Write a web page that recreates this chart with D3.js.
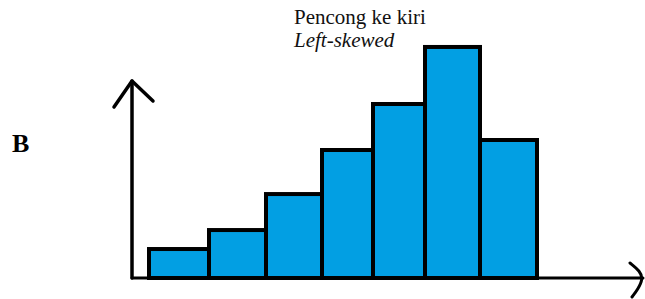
<!DOCTYPE html>
<html>
<head>
<meta charset="utf-8">
<script src="https://cdn.jsdelivr.net/npm/d3@7"></script>
<style>
html,body{margin:0;padding:0;background:#fff;}
svg{display:block;}
.serif{font-family:'Liberation Serif','Times New Roman',Times,serif;}
</style>
</head>
<body>
<svg id="chart" width="645" height="299"></svg>
<script>
const binEdges = [0, 6.0, 11.7, 17.3, 22.4, 27.6, 33.1, 38.8];
const values = [2.52, 4.17, 7.3, 11.13, 15.13, 20.09, 12.0];
const titleLines = ["Pencong ke kiri", "Left-skewed"];
const panelLabel = "B";

const svg = d3.select("#chart");
const x0 = 149, x1 = 537, baseY = 278;

const x = d3.scaleLinear().domain([0, 38.8]).range([x0, x1]);
const y = d3.scaleLinear().domain([0, 24]).range([baseY, baseY - 24 * 11.5]);

const bins = values.map((v, i) => ({lo: binEdges[i], hi: binEdges[i + 1], v}));

svg.append("g").selectAll("rect").data(bins).join("rect")
  .attr("x", d => x(d.lo))
  .attr("y", d => y(d.v))
  .attr("width", d => x(d.hi) - x(d.lo))
  .attr("height", d => y(0) - y(d.v))
  .attr("fill", "#029fe3")
  .attr("stroke", "#000")
  .attr("stroke-width", 4)
  .attr("stroke-linejoin", "miter");

const ax = 132;
const g = svg.append("g").attr("fill", "none").attr("stroke", "#000")
  .attr("stroke-linecap", "round").attr("stroke-linejoin", "round");
g.append("path").attr("stroke-width", 3.5)
  .attr("d", d3.line()([[ax, baseY], [ax, 81]]));
g.append("path").attr("stroke-width", 3.5)
  .attr("d", d3.line()([[114, 107], [ax, 81], [153, 101]]));
g.append("path").attr("stroke-width", 3)
  .attr("d", d3.line()([[ax, baseY], [643, baseY]]));
g.append("path").attr("stroke-width", 3)
  .attr("d", d3.line().curve(d3.curveBasis)([[630, 263], [640, 271], [643, 279], [638, 289], [632, 297]]));

svg.append("text").attr("class", "serif").attr("x", 294).attr("y", 24)
  .attr("font-size", 21).attr("fill", "#111")
  .text(titleLines[0]);
svg.append("text").attr("class", "serif").attr("x", 294).attr("y", 47)
  .attr("font-style", "italic")
  .attr("font-size", 21).attr("fill", "#111")
  .text(titleLines[1]);

svg.append("text").attr("class", "serif").attr("x", 12).attr("y", 152)
  .attr("font-weight", "bold")
  .attr("font-size", 26).attr("fill", "#000")
  .text(panelLabel);
</script>
</body>
</html>
